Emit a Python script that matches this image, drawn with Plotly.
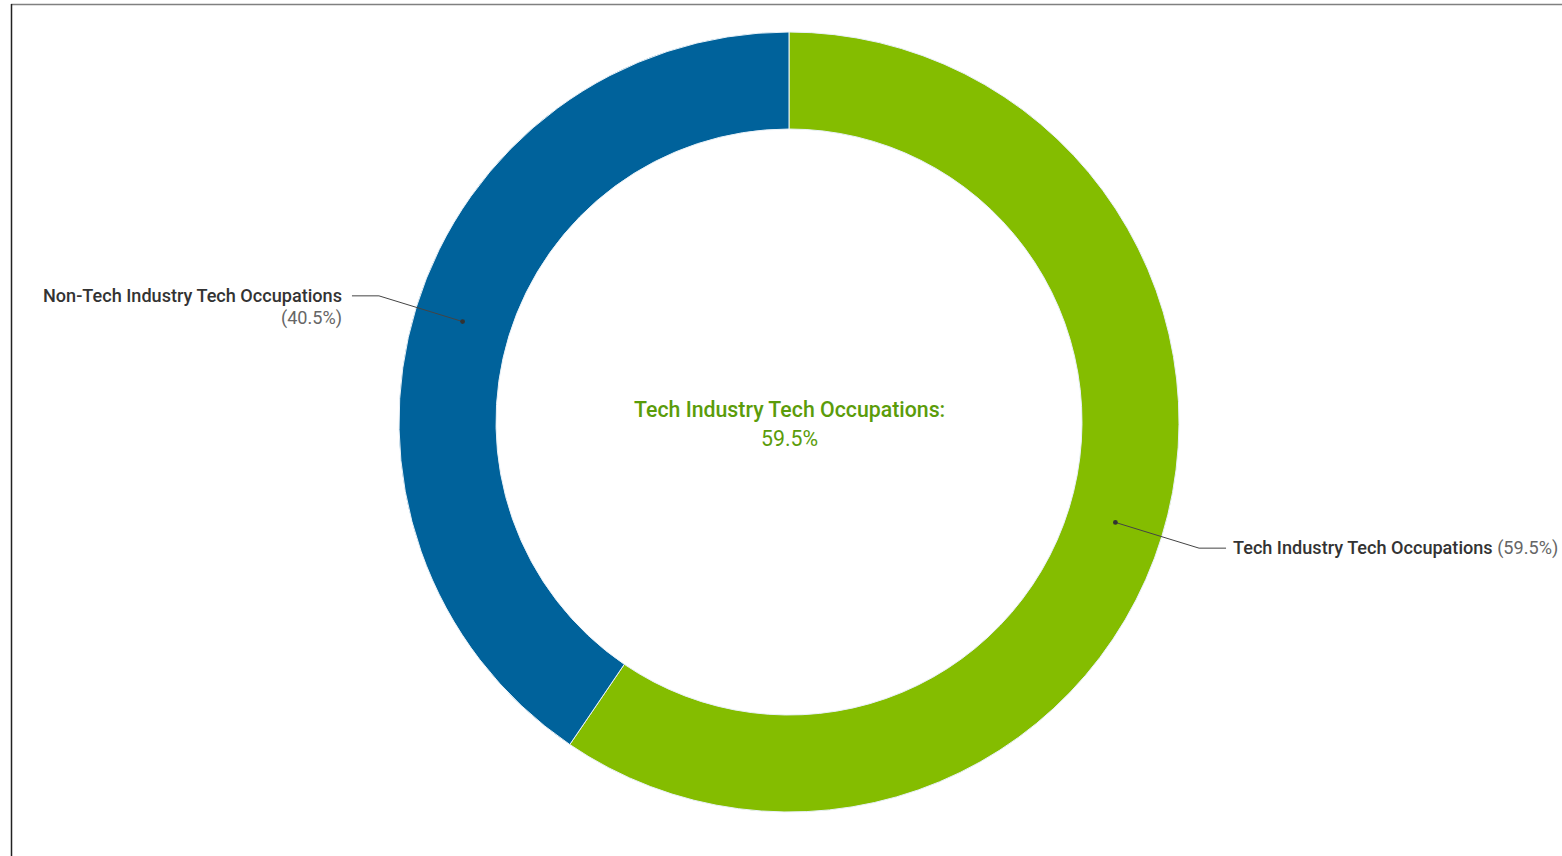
import math
import plotly.graph_objects as go

labels = ["Tech Industry Tech Occupations", "Non-Tech Industry Tech Occupations"]
values = [59.5, 40.5]
colors = ["#84bd00", "#00629b"]

W, H = 1562, 856
cx, cy = 789, 422          # pixel centre of the donut
R_out, R_in = 390, 293
hole = R_in / R_out

fig = go.Figure()
fig.add_trace(go.Pie(
    labels=labels, values=values, sort=False, direction="clockwise", rotation=0,
    hole=hole, textinfo="none", hoverinfo="skip",
    marker=dict(colors=colors, line=dict(color="#e8f1f8", width=1)),
    domain=dict(x=[(cx - R_out) / W, (cx + R_out) / W],
                y=[(H - cy - R_out) / H, (H - cy + R_out) / H]),
    showlegend=False,
))

def px2paper(x, y):
    return x / W, 1 - y / H

LABEL_SIZE = 18.1
CENTER_SIZE = 21.3

shapes = []
annotations = []
total = sum(values)
cum = 0
r_mid = (R_out + R_in) / 2
r_elbow = 429
for lab, v in zip(labels, values):
    mid = (cum + v / 2) / total * 2 * math.pi
    cum += v
    dx, dy = math.sin(mid), -math.cos(mid)
    x0, y0 = cx + r_mid * dx, cy + r_mid * dy
    x1, y1 = cx + r_elbow * dx, cy + r_elbow * dy
    side = 1 if dx > 0 else -1
    x2 = x1 + side * 27
    pts = [px2paper(x0, y0), px2paper(x1, y1), px2paper(x2, y1)]
    path = "M {} {} L {} {} L {} {}".format(*[c for p in pts for c in p])
    shapes.append(dict(type="path", path=path, xref="paper", yref="paper",
                       line=dict(color="#444444", width=1)))
    dp = px2paper(x0, y0)
    shapes.append(dict(type="circle", xref="paper", yref="paper",
                       x0=dp[0] - 2.4 / W, x1=dp[0] + 2.4 / W,
                       y0=dp[1] - 2.4 / H, y1=dp[1] + 2.4 / H,
                       fillcolor="#333333", line=dict(width=0)))
    pct = f"({v:.1f}%)"
    if side > 0:
        tx, ty = px2paper(x2 + 5, y1)
        annotations.append(dict(
            x=tx, y=ty, xref="paper", yref="paper", xanchor="left", yanchor="middle",
            showarrow=False,
            text=f"<span style='font-weight:500'>{lab}</span> <span style='color:#666666'>{pct}</span>",
            font=dict(family="Roboto", size=LABEL_SIZE, color="#333333")))
    else:
        tx, ty = px2paper(x2 - 8, y1)
        annotations.append(dict(
            x=tx, y=ty, xref="paper", yref="paper", xanchor="right", yanchor="middle",
            showarrow=False, text=f"<span style='font-weight:500'>{lab}</span>",
            font=dict(family="Roboto", size=LABEL_SIZE, color="#333333")))
        tx2, ty2 = px2paper(x2 - 8, y1 + 22)
        annotations.append(dict(
            x=tx2, y=ty2, xref="paper", yref="paper", xanchor="right", yanchor="middle",
            showarrow=False, text=pct,
            font=dict(family="Roboto", size=LABEL_SIZE, color="#666666")))

# centre text
c1 = px2paper(cx, 409)
c2 = px2paper(cx, 438)
annotations.append(dict(x=c1[0], y=c1[1], xref="paper", yref="paper", showarrow=False,
                        text=f"<span style='font-weight:500'>{labels[0]}:</span>",
                        font=dict(family="Roboto", size=CENTER_SIZE, color="#5b9c0a")))
annotations.append(dict(x=c2[0], y=c2[1], xref="paper", yref="paper", showarrow=False,
                        text=f"{values[0]:.1f}%",
                        font=dict(family="Roboto", size=CENTER_SIZE, color="#5b9c0a")))

# frame lines (top and left)
shapes.append(dict(type="line", xref="paper", yref="paper",
                   x0=11 / W, x1=1, y0=1 - 4.5 / H, y1=1 - 4.5 / H,
                   line=dict(color="#808080", width=1.5)))
shapes.append(dict(type="line", xref="paper", yref="paper",
                   x0=11.5 / W, x1=11.5 / W, y0=1 - 4 / H, y1=0,
                   line=dict(color="#222222", width=1.5)))

fig.update_layout(
    width=W, height=H, margin=dict(l=0, r=0, t=0, b=0),
    paper_bgcolor="white", plot_bgcolor="white",
    shapes=shapes, annotations=annotations,
    font=dict(family="Roboto"),
)

fig.write_html("out.html", config={"displayModeBar": False})
